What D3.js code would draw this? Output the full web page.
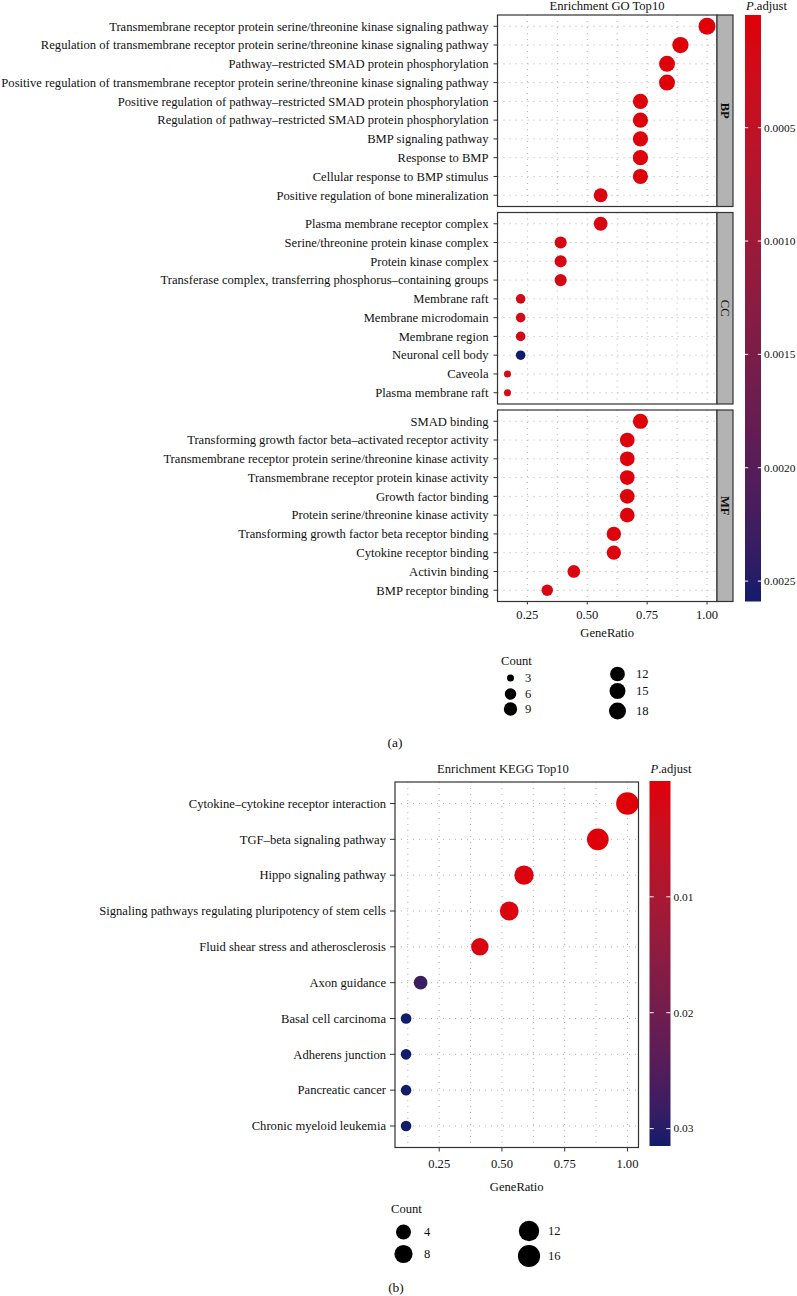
<!DOCTYPE html>
<meta charset="utf-8" />
<title>Enrichment GO / KEGG Top10</title>
<style>
  body { margin: 0; background: #fff; }
  svg { display: block; font-family: "Liberation Serif", "Times New Roman", serif; }
  text { fill: #111; font-size: 12.6px; }
  text.cbl { font-size: 11.4px; }
  .grid { stroke: #b3b3b3; stroke-width: 1; stroke-dasharray: 1,5; }
  .frame { fill: none; stroke: #333; stroke-width: 1.2; }
  .tickmark { stroke: #333; stroke-width: 1; }
  .strip { fill: #b3b3b3; stroke: #333; stroke-width: 1.2; }
</style>

<body>
  <svg width="797" height="1296"></svg>

  <script src="https://d3js.org/d3.v7.min.js"></script>
  <script>
    const svg = d3.select("svg");

    // ---- GO data (three facets, top to bottom) ----
    const goFacets = ["BP", "CC", "MF"];
    const bpTerms = [
      "Transmembrane receptor protein serine/threonine kinase signaling pathway",
      "Regulation of transmembrane receptor protein serine/threonine kinase signaling pathway",
      "Pathway\u2013restricted SMAD protein phosphorylation",
      "Positive regulation of transmembrane receptor protein serine/threonine kinase signaling pathway",
      "Positive regulation of pathway\u2013restricted SMAD protein phosphorylation",
      "Regulation of pathway\u2013restricted SMAD protein phosphorylation",
      "BMP signaling pathway",
      "Response to BMP",
      "Cellular response to BMP stimulus",
      "Positive regulation of bone mineralization"
    ];
    const bpRatio = [1.000, 0.889, 0.833, 0.833, 0.722, 0.722, 0.722, 0.722, 0.722, 0.556];
    const bpCount = [18, 16, 15, 15, 13, 13, 13, 13, 13, 10];
    const bpPadj  = [0.000003, 0.000008, 0.00002, 0.00002, 0.00004, 0.00004, 0.00005, 0.00005, 0.00006, 0.0001];

    const ccTerms = [
      "Plasma membrane receptor complex",
      "Serine/threonine protein kinase complex",
      "Protein kinase complex",
      "Transferase complex, transferring phosphorus\u2013containing groups",
      "Membrane raft",
      "Membrane microdomain",
      "Membrane region",
      "Neuronal cell body",
      "Caveola",
      "Plasma membrane raft"
    ];
    const ccRatio = [0.556, 0.389, 0.389, 0.389, 0.222, 0.222, 0.222, 0.222, 0.167, 0.167];
    const ccCount = [10, 7, 7, 7, 4, 4, 4, 4, 3, 3];
    const ccPadj  = [0.0001, 0.00015, 0.00015, 0.00018, 0.0002, 0.0002, 0.0002, 0.00259, 0.00022, 0.00022];

    const mfTerms = [
      "SMAD binding",
      "Transforming growth factor beta\u2013activated receptor activity",
      "Transmembrane receptor protein serine/threonine kinase activity",
      "Transmembrane receptor protein kinase activity",
      "Growth factor binding",
      "Protein serine/threonine kinase activity",
      "Transforming growth factor beta receptor binding",
      "Cytokine receptor binding",
      "Activin binding",
      "BMP receptor binding"
    ];
    const mfRatio = [0.722, 0.667, 0.667, 0.667, 0.667, 0.667, 0.611, 0.611, 0.444, 0.333];
    const mfCount = [13, 12, 12, 12, 12, 12, 11, 11, 8, 6];
    const mfPadj  = [0.00002, 0.00003, 0.00003, 0.00003, 0.00004, 0.00004, 0.00006, 0.00008, 0.0001, 0.00012];

    const goColorTicks = [0.0005, 0.0010, 0.0015, 0.0020, 0.0025];
    const goCountBreaks = [3, 6, 9, 12, 15, 18];

    // ---- KEGG data ----
    const keggTerms = [
      "Cytokine\u2013cytokine receptor interaction",
      "TGF\u2013beta signaling pathway",
      "Hippo signaling pathway",
      "Signaling pathways regulating pluripotency of stem cells",
      "Fluid shear stress and atherosclerosis",
      "Axon guidance",
      "Basal cell carcinoma",
      "Adherens junction",
      "Pancreatic cancer",
      "Chronic myeloid leukemia"
    ];
    const keggRatio = [1.000, 0.882, 0.588, 0.529, 0.412, 0.176, 0.118, 0.118, 0.118, 0.118];
    const keggCount = [17, 15, 10, 9, 7, 3, 2, 2, 2, 2];
    const keggPadj  = [0.00001, 0.0002, 0.0008, 0.0009, 0.0015, 0.028, 0.0315, 0.0315, 0.0315, 0.0315];

    const keggColorTicks = [0.01, 0.02, 0.03];
    const keggCountBreaks = [4, 8, 12, 16];

    const xTicks = [0.25, 0.50, 0.75, 1.00];
    const xMinor = [0.125, 0.375, 0.625, 0.875];

    const LOW = "#e00008", HIGH = "#111c6b";

    // ggplot-like 5% expansion of a continuous range
    function expand(vals) {
      const [a, b] = d3.extent(vals);
      const p = (b - a) * 0.05;
      return [a - p, b + p];
    }

    // area-style size scale (radius from sqrt of rescaled count)
    function sizeScale(counts, rMin, rMax) {
      const t = d3.scaleLinear().domain(d3.extent(counts)).range([0, 1]);
      const r = d3.scaleLinear().domain([0, 1]).range([rMin, rMax]);
      return c => r(Math.sqrt(Math.max(0, t(c))));
    }

    function drawPanel(opt) {
      const { terms, ratio, count, padj, x, color, size, top, bottom, tickLen, labelGap } = opt;
      const [x0, x1] = x.range();
      const y = d3.scalePoint().domain(terms).range([top, bottom]).padding(0.6);
      const g = svg.append("g");

      // grid
      g.selectAll("line.gx")
        .data(xTicks.concat(xMinor).filter(v => x(v) > x0 + 1 && x(v) < x1 - 1))
        .enter().append("line")
        .attr("class", "grid")
        .attr("x1", d => x(d)).attr("x2", d => x(d))
        .attr("y1", top).attr("y2", bottom);
      g.selectAll("line.gy")
        .data(terms)
        .enter().append("line")
        .attr("class", "grid")
        .attr("x1", x0).attr("x2", x1)
        .attr("y1", d => y(d)).attr("y2", d => y(d));

      // dots
      g.selectAll("circle.dot")
        .data(terms.map((t, i) => ({ t, r: ratio[i], c: count[i], p: padj[i] })))
        .enter().append("circle")
        .attr("cx", d => x(d.r))
        .attr("cy", d => y(d.t))
        .attr("r", d => size(d.c))
        .attr("fill", d => color(d.p));

      // frame
      g.append("rect").attr("class", "frame")
        .attr("x", x0).attr("y", top)
        .attr("width", x1 - x0).attr("height", bottom - top);

      // y axis ticks and labels
      g.selectAll("line.yt")
        .data(terms)
        .enter().append("line")
        .attr("class", "tickmark")
        .attr("x1", x0 - tickLen).attr("x2", x0)
        .attr("y1", d => y(d)).attr("y2", d => y(d));
      g.selectAll("text.yl")
        .data(terms)
        .enter().append("text")
        .attr("x", x0 - tickLen - labelGap)
        .attr("y", d => y(d))
        .attr("dy", "0.34em")
        .attr("text-anchor", "end")
        .text(d => d);
      return g;
    }

    function drawXAxis(x, bottom, tickLen, labelY, titleY) {
      const g = svg.append("g");
      g.selectAll("line")
        .data(xTicks)
        .enter().append("line")
        .attr("class", "tickmark")
        .attr("x1", d => x(d)).attr("x2", d => x(d))
        .attr("y1", bottom).attr("y2", bottom + tickLen);
      g.selectAll("text.xl")
        .data(xTicks)
        .enter().append("text")
        .attr("x", d => x(d))
        .attr("y", labelY)
        .attr("text-anchor", "middle")
        .text(d => d3.format(".2f")(d));
      const [x0, x1] = x.range();
      g.append("text")
        .attr("x", (x0 + x1) / 2)
        .attr("y", titleY)
        .attr("text-anchor", "middle")
        .text("GeneRatio");
    }

    function drawColorbar(color, ticks, bx, bw, top, bottom, titleY, id) {
      const dom = color.domain();
      const yc = d3.scaleLinear().domain(dom).range([top, bottom]);
      const grad = svg.append("defs").append("linearGradient")
        .attr("id", id).attr("x1", 0).attr("x2", 0).attr("y1", 0).attr("y2", 1);
      d3.range(0, 1.0001, 0.05).forEach(f => {
        grad.append("stop")
          .attr("offset", f)
          .attr("stop-color", color(dom[0] + f * (dom[1] - dom[0])));
      });
      svg.append("rect")
        .attr("x", bx).attr("y", top)
        .attr("width", bw).attr("height", bottom - top)
        .attr("fill", `url(#${id})`);
      const tl = bw / 5;
      ticks.forEach(v => {
        [[bx, bx + tl], [bx + bw - tl, bx + bw]].forEach(([a, b]) => {
          svg.append("line")
            .attr("x1", a).attr("x2", b)
            .attr("y1", yc(v)).attr("y2", yc(v))
            .attr("stroke", "#fff").attr("stroke-width", 1);
        });
      });
      svg.selectAll(null)
        .data(ticks)
        .enter().append("text")
        .attr("class", "cbl")
        .attr("x", bx + bw + 3)
        .attr("y", d => yc(d))
        .attr("dy", "0.34em")
        .text(d => d3.format(ticks[0] < 0.001 ? ".4f" : ".2f")(d));
      const t = svg.append("text").attr("x", bx + 1).attr("y", titleY);
      t.append("tspan").attr("font-style", "italic").text("P");
      t.append("tspan").text(".adjust");
    }

    function drawSizeLegend(breaks, size, titleX, titleY, cols) {
      svg.append("text").attr("x", titleX).attr("y", titleY).text("Count");
      cols.forEach(col => {
        col.items.forEach((b, i) => {
          svg.append("circle")
            .attr("cx", col.cx).attr("cy", col.ys[i])
            .attr("r", size(b)).attr("fill", "#000");
          svg.append("text")
            .attr("x", col.lx).attr("y", col.ys[i])
            .attr("dy", "0.34em")
            .text(b);
        });
      });
    }

    // =================== (a) GO ===================
    const goAllRatio = bpRatio.concat(ccRatio, mfRatio);
    const goAllPadj = bpPadj.concat(ccPadj, mfPadj);
    const goAllCount = bpCount.concat(ccCount, mfCount);
    const goX = d3.scaleLinear().domain(expand(goAllRatio)).range([497.5, 717]);
    const goColor = d3.scaleLinear().domain(d3.extent(goAllPadj)).range([LOW, HIGH]).interpolate(d3.interpolateLab);
    const goSize = sizeScale(goAllCount, 3.5, 8.5);

    const goTop = 15, goPanelH = 191.5, goGap = 6;
    const goSets = [
      [bpTerms, bpRatio, bpCount, bpPadj],
      [ccTerms, ccRatio, ccCount, ccPadj],
      [mfTerms, mfRatio, mfCount, mfPadj]
    ];
    goSets.forEach(([terms, ratio, count, padj], i) => {
      const top = goTop + i * (goPanelH + goGap);
      const bottom = top + goPanelH;
      drawPanel({ terms, ratio, count, padj, x: goX, color: goColor, size: goSize, top, bottom, tickLen: 4, labelGap: 5 });
      svg.append("rect").attr("class", "strip")
        .attr("x", 717).attr("y", top).attr("width", 16).attr("height", goPanelH);
      svg.append("text")
        .attr("transform", `translate(${725},${(top + bottom) / 2}) rotate(90)`)
        .attr("text-anchor", "middle")
        .attr("dy", "0.34em")
        .attr("font-weight", goFacets[i] === "CC" ? "normal" : "bold")
        .text(goFacets[i]);
    });
    const goBottom = goTop + 3 * goPanelH + 2 * goGap;
    drawXAxis(goX, goBottom, 3, 619, 637);
    svg.append("text").attr("x", 607).attr("y", 10).attr("text-anchor", "middle").text("Enrichment GO Top10");
    drawColorbar(goColor, goColorTicks, 745, 16, goTop, goBottom, 10, "gradGO");
    drawSizeLegend(goCountBreaks, goSize, 501, 665, [
      { items: goCountBreaks.slice(0, 3), cx: 510.5, lx: 525, ys: [678, 694, 709] },
      { items: goCountBreaks.slice(3), cx: 617.5, lx: 636, ys: [674, 691, 711] }
    ]);
    svg.append("text").attr("x", 395).attr("y", 747).attr("text-anchor", "middle")
      .style("font-size", "13.5px").text("(a)");

    // =================== (b) KEGG ===================
    const kTop = 782, kBottom = 1147.5;
    const keggX = d3.scaleLinear().domain(expand(keggRatio)).range([395, 638.5]);
    const keggColor = d3.scaleLinear().domain(d3.extent(keggPadj)).range([LOW, HIGH]).interpolate(d3.interpolateLab);
    const keggSize = sizeScale(keggCount, 5.3, 11.3);
    drawPanel({ terms: keggTerms, ratio: keggRatio, count: keggCount, padj: keggPadj, x: keggX, color: keggColor, size: keggSize, top: kTop, bottom: kBottom, tickLen: 5, labelGap: 4 });
    drawXAxis(keggX, kBottom, 4, 1168, 1191);
    svg.append("text").attr("x", 503).attr("y", 773).attr("text-anchor", "middle").text("Enrichment KEGG Top10");
    drawColorbar(keggColor, keggColorTicks, 649.5, 21, 781, 1146, 773, "gradKEGG");
    drawSizeLegend(keggCountBreaks, keggSize, 391, 1213, [
      { items: keggCountBreaks.slice(0, 2), cx: 403.5, lx: 424, ys: [1232, 1254] },
      { items: keggCountBreaks.slice(2), cx: 529, lx: 548, ys: [1231, 1256] }
    ]);
    svg.append("text").attr("x", 396).attr("y", 1292).attr("text-anchor", "middle")
      .style("font-size", "13.5px").text("(b)");
  </script>
</body>
